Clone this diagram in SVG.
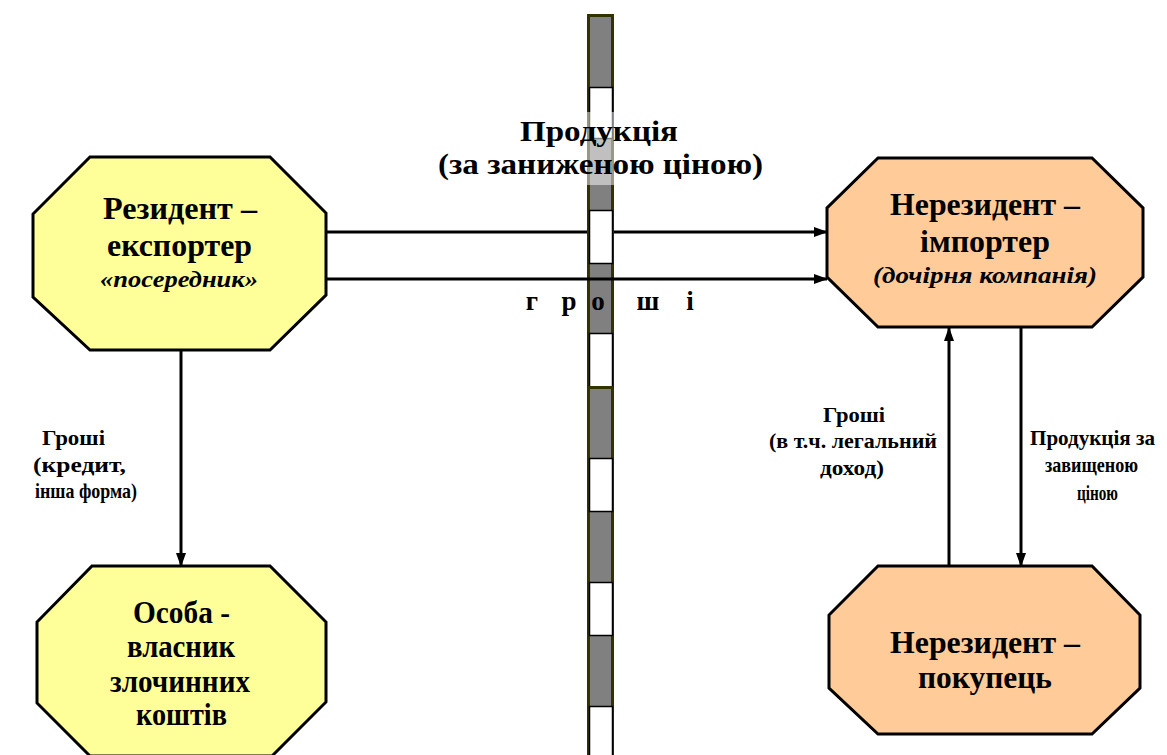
<svg xmlns="http://www.w3.org/2000/svg" width="1167" height="755" viewBox="0 0 1167 755">
<defs>
<style>
.t{font-family:"Liberation Serif","Times New Roman",serif;font-weight:bold;fill:#000}
.n{font-size:31px}
.p{font-size:29px}
.i{font-size:24px;font-style:italic}
.s{font-size:21px}
.y{fill:#FFFF99;stroke:#000;stroke-width:3}
.o{fill:#FFCC99;stroke:#000;stroke-width:3}
.ln{stroke:#000;stroke-width:3;fill:none}
.w{fill:#fff;stroke:#000;stroke-width:1.5}
</style>
<marker id="ah" markerWidth="14" markerHeight="10" refX="13" refY="5" orient="auto" markerUnits="userSpaceOnUse">
<path d="M0,0 L14,5 L0,10 Z" fill="#000"/>
</marker>
</defs>
<rect width="1167" height="755" fill="#fff"/>
<g id="connectors-back">
<line class="ln" x1="326" y1="232" x2="827" y2="232" marker-end="url(#ah)"/>
</g>
<g id="border">
<rect x="588.5" y="15.5" width="24" height="760" fill="#808080" stroke="#333300" stroke-width="3"/>
<rect class="w" x="589.5" y="87.5" width="23" height="51"/>
<rect class="w" x="589.5" y="210.5" width="23" height="53"/>
<rect class="w" x="589.5" y="333.5" width="23" height="54"/>
<line x1="588" y1="387.5" x2="613" y2="387.5" stroke="#333300" stroke-width="3"/>
<rect class="w" x="589.5" y="458.5" width="23" height="53"/>
<rect class="w" x="589.5" y="582.5" width="23" height="53"/>
<rect class="w" x="589.5" y="706.5" width="23" height="60"/>
</g>
<g id="label-product">
<rect x="430" y="112" width="340" height="73" fill="#fff" fill-opacity="0.5"/>
<text class="t p" x="520" y="141" textLength="158" lengthAdjust="spacingAndGlyphs">Продукція</text>
<text class="t p" x="438" y="174" textLength="325" lengthAdjust="spacingAndGlyphs">(за заниженою ціною)</text>
</g>
<g id="connectors">
<line class="ln" x1="326" y1="279" x2="827" y2="279" marker-end="url(#ah)"/>
<line class="ln" x1="181" y1="350" x2="181" y2="566" marker-end="url(#ah)"/>
<line class="ln" x1="949" y1="566" x2="949" y2="328" marker-end="url(#ah)"/>
<line class="ln" x1="1021" y1="327" x2="1021" y2="566" marker-end="url(#ah)"/>
<g class="t" font-size="27" text-anchor="middle">
<text x="532" y="310">г</text>
<text x="569" y="310">р</text>
<text x="598" y="310">о</text>
<text x="648" y="310">ш</text>
<text x="690" y="310">і</text>
</g>
<text class="t s" x="42" y="445" textLength="63" lengthAdjust="spacingAndGlyphs">Гроші</text>
<text class="t s" x="33" y="472" textLength="93" lengthAdjust="spacingAndGlyphs">(кредит,</text>
<text class="t s" x="35" y="498" textLength="102" lengthAdjust="spacingAndGlyphs">інша форма)</text>
<text class="t s" x="823" y="422" textLength="62" lengthAdjust="spacingAndGlyphs">Гроші</text>
<text class="t s" x="769" y="448" textLength="168" lengthAdjust="spacingAndGlyphs">(в т.ч. легальний</text>
<text class="t s" x="820" y="475" textLength="64" lengthAdjust="spacingAndGlyphs">доход)</text>
<text class="t s" x="1030" y="445" textLength="125" lengthAdjust="spacingAndGlyphs">Продукція за</text>
<text class="t s" x="1045" y="472" textLength="93" lengthAdjust="spacingAndGlyphs">завищеною</text>
<text class="t s" x="1077" y="500" textLength="41" lengthAdjust="spacingAndGlyphs">ціною</text>
</g>
<g id="node-resident-exporter">
<polygon class="y" points="90,157 270,157 326,213 326,295 270,350 90,350 33,297 33,214"/>
<text class="t n" x="103" y="219" textLength="154" lengthAdjust="spacingAndGlyphs">Резидент –</text>
<text class="t n" x="107" y="256" textLength="145" lengthAdjust="spacingAndGlyphs">експортер</text>
<text class="t i" x="100" y="287" textLength="158" lengthAdjust="spacingAndGlyphs">«посередник»</text>
</g>
<g id="node-owner">
<polygon class="y" points="92,566 270,566 326,622 326,702 272,756 90,756 37,703 37,622"/>
<text class="t n" x="133" y="623" textLength="97" lengthAdjust="spacingAndGlyphs">Особа -</text>
<text class="t n" x="127" y="657" textLength="108" lengthAdjust="spacingAndGlyphs">власник</text>
<text class="t n" x="110" y="692" textLength="140" lengthAdjust="spacingAndGlyphs">злочинних</text>
<text class="t n" x="136" y="725" textLength="91" lengthAdjust="spacingAndGlyphs">коштів</text>
</g>
<g id="node-nonresident-importer">
<polygon class="o" points="878,158 1092,158 1143,208 1143,277 1092,327 878,327 827,277 827,208"/>
<text class="t n" x="890" y="215" textLength="190" lengthAdjust="spacingAndGlyphs">Нерезидент –</text>
<text class="t n" x="920" y="252" textLength="130" lengthAdjust="spacingAndGlyphs">імпортер</text>
<text class="t i" x="873" y="283" textLength="224" lengthAdjust="spacingAndGlyphs">(дочірня компанія)</text>
</g>
<g id="node-nonresident-buyer">
<polygon class="o" points="878,566 1092,566 1140,615 1140,688 1092,734 878,734 829,688 829,615"/>
<text class="t n" x="890" y="653" textLength="190" lengthAdjust="spacingAndGlyphs">Нерезидент –</text>
<text class="t n" x="918" y="688" textLength="134" lengthAdjust="spacingAndGlyphs">покупець</text>
</g>
</svg>
